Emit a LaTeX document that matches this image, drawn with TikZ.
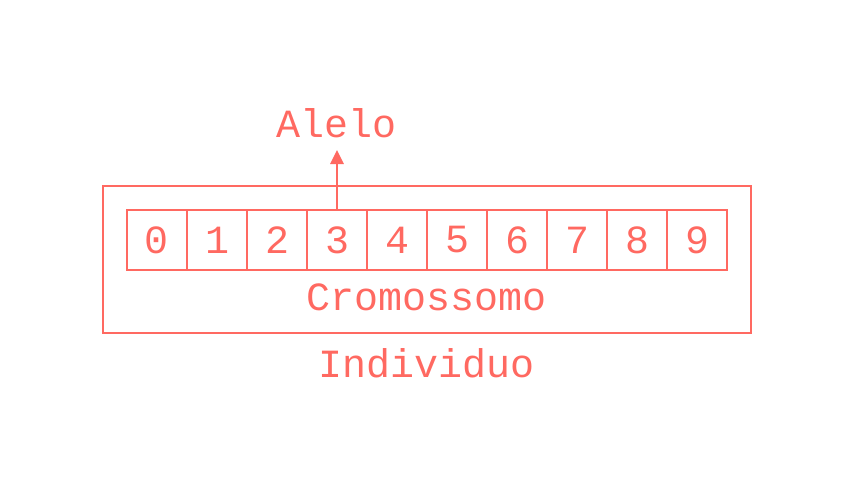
\documentclass[tikz,border=0pt]{standalone}
\usepackage{fontspec}
\setmonofont{Liberation Mono}
\usetikzlibrary{arrows.meta}
\definecolor{sal}{RGB}{255,105,97}
\begin{document}
\begin{tikzpicture}[x=1pt,y=-1pt,
  cell/.style={draw=sal,line width=1.3pt,minimum width=60pt,minimum height=60pt,inner sep=0pt,text=sal,font=\ttfamily\fontsize{40}{40}\selectfont},
  lbl/.style={text=sal,font=\ttfamily\fontsize{40}{40}\selectfont,inner sep=0pt}]
\useasboundingbox (0,0) rectangle (854,480);
\draw[draw=sal,line width=1.3pt] (103,186) rectangle (751,333);
\foreach \i in {0,...,9} {
  \node[cell] (c\i) at (157+60*\i,240) {\i};
}
\node[lbl] (alelo) at (337,123) {Alelo};
\node[lbl] (crom) at (427,297) {Cromossomo};
\node[lbl] (ind) at (427,363) {Individuo};
\coordinate (tip) at (337,150);
\draw[sal,line width=2.8pt,-{Triangle[length=14pt,width=13pt]}] (c3.north) -- (tip);
\end{tikzpicture}
\end{document}
